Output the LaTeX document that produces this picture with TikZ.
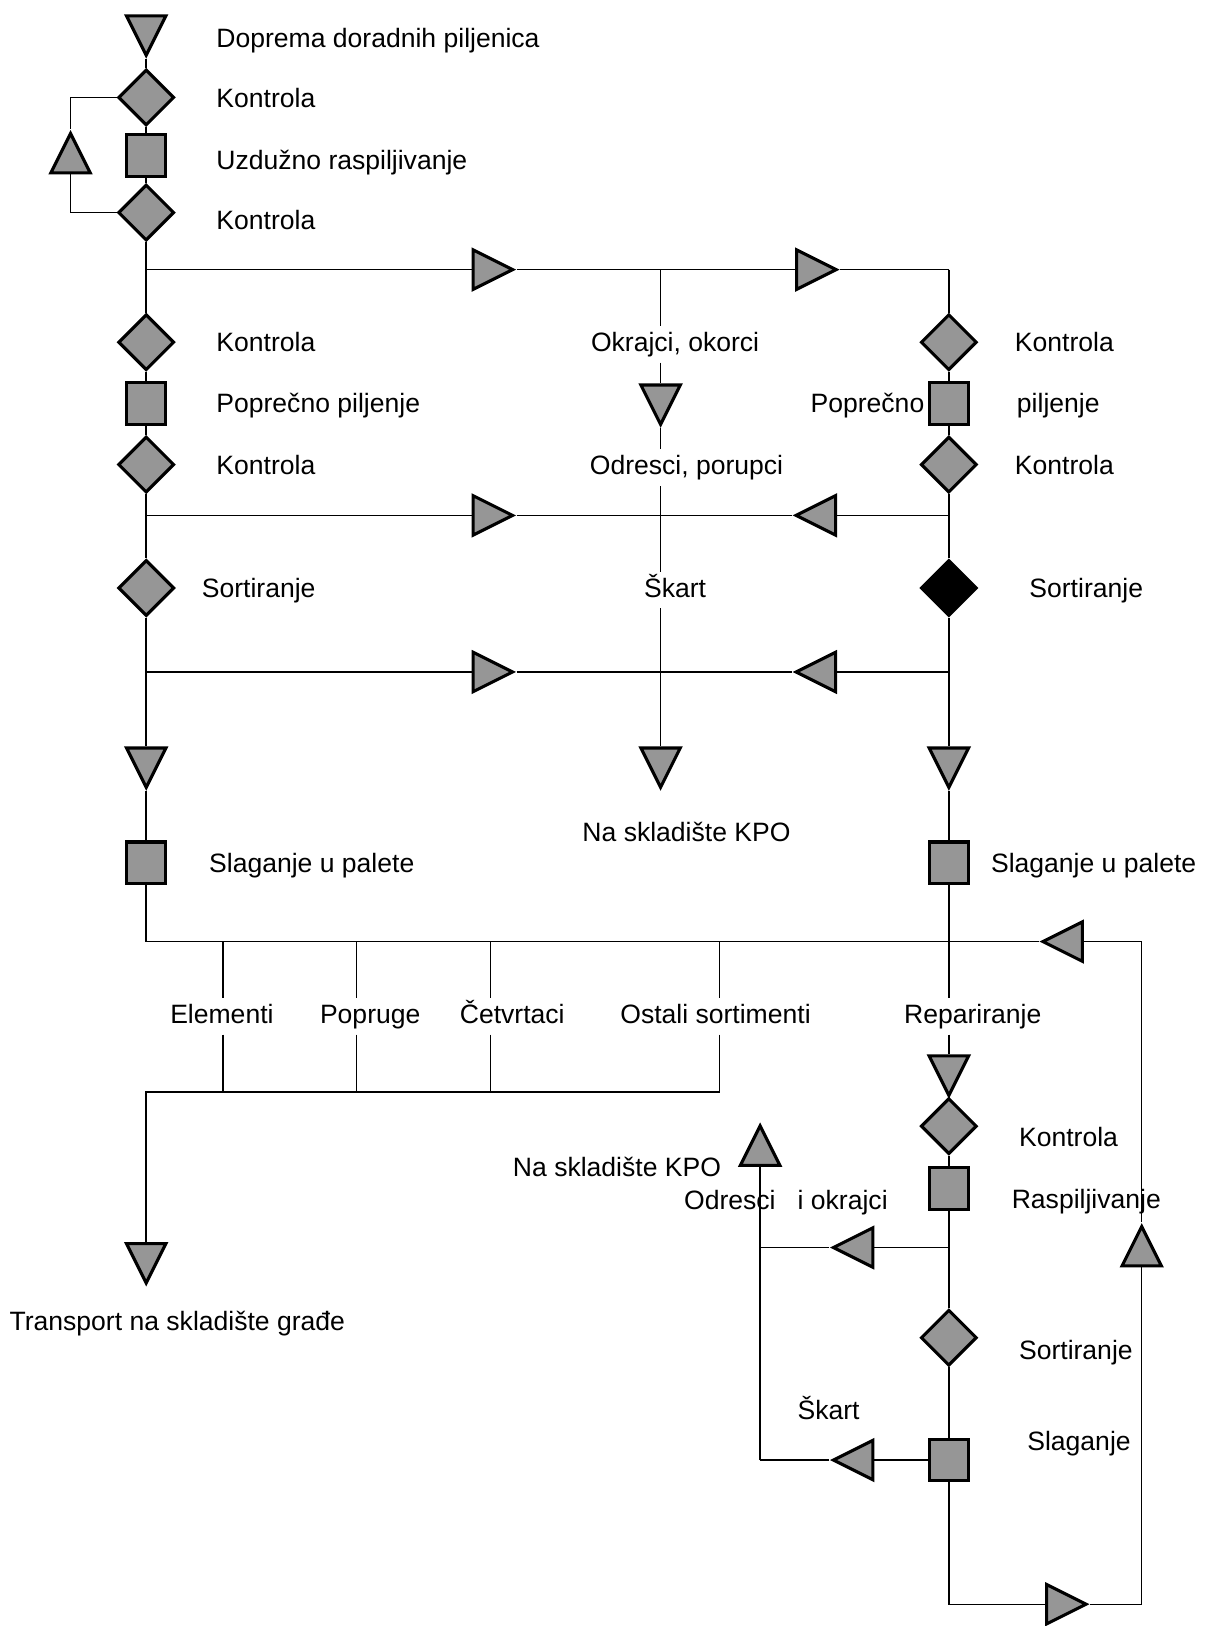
\documentclass[tikz,border=0pt]{standalone}
\usepackage{fontspec}
\setmainfont{Liberation Sans}
\usetikzlibrary{shapes.geometric}
\definecolor{symgray}{RGB}{150,150,150}
\tikzset{
  sym/.style={draw,fill=symgray,line width=1.5pt,inner sep=0pt},
  opbox/.style={sym,rectangle,minimum width=19pt,minimum height=20pt},
  ctrl/.style={sym,diamond,minimum width=27pt,minimum height=27pt},
  ctrlblack/.style={ctrl,fill=black},
  tri/.style={sym,isosceles triangle,isosceles triangle stretches,minimum width=19pt,minimum height=19pt},
  tridown/.style={tri,shape border rotate=-90},
  triup/.style={tri,shape border rotate=90},
  triright/.style={tri,shape border rotate=0},
  trileft/.style={tri,shape border rotate=180},
  lbl/.style={text height=9.5pt,text depth=2.5pt,inner sep=2.5pt}
}
\begin{document}
\begin{tikzpicture}[x=0.5pt,y=-0.5pt,line width=0.7pt,font=\fontsize{12.8}{15}\selectfont]
  \useasboundingbox (0,0) rectangle (1164,1568);
  % draw left column
  \node at(141,27)[tridown](tdop){};
  \node at(141,94)[ctrl](k1){};
  \node at(141,150)[opbox](sq1){};
  \node at(141,205)[ctrl](k2){};
  \node at(68,155)[triup](tloop){};
  \coordinate (l1) at (141,260);
  \node at(141,330)[ctrl](k3){};
  \node at(141,389)[opbox](sq2){};
  \node at(141,448)[ctrl](k4){};
  \coordinate (l2) at (141,497);
  \node at(141,567)[ctrl](s1){};
  \coordinate (l3) at (141,648);
  \node at(141,733)[tridown](tl){};
  \node at(141,832)[opbox](pal1){};
  \coordinate (b1) at (141,908);
  % draw left labels
  \node at(203,39)[lbl,anchor=west]{Doprema doradnih piljenica};
  \node at(203,97)[lbl,anchor=west]{Kontrola};
  \node at(203,156)[lbl,anchor=west]{Uzdužno raspiljivanje};
  \node at(203,214)[lbl,anchor=west]{Kontrola};
  \node at(203,332)[lbl,anchor=west]{Kontrola};
  \node at(203,391)[lbl,anchor=west]{Poprečno piljenje};
  \node at(203,451)[lbl,anchor=west]{Kontrola};
  \node at(189,569)[lbl,anchor=west]{Sortiranje};
  \node at(196,834)[lbl,anchor=west]{Slaganje u palete};
  % draw middle column
  \coordinate (m1) at (637,260);
  \node at(651,332)[lbl](okr){Okrajci, okorci};
  \node at(637,383)[tridown](tmid){};
  \node at(662,451)[lbl](odr){Odresci, porupci};
  \coordinate (m2) at (637,497);
  \node at(651,569)[lbl](skart){Škart};
  \coordinate (m3) at (637,648);
  \node at(637,733)[tridown](tkpo){};
  \node at(662,804)[lbl](kpo){Na skladište KPO};
  % draw row triangles
  \node at(468,260)[triright](ta1){};
  \node at(780,260)[triright](ta2){};
  \node at(468,497)[triright](tb1){};
  \node at(794,497)[trileft](tb2){};
  \node at(468,648)[triright](tc1){};
  \node at(794,648)[trileft](tc2){};
  % draw right column
  \coordinate (r1) at (915,260);
  \node at(915,330)[ctrl](k5){};
  \node at(915,389)[opbox](sq3){};
  \node at(915,448)[ctrl](k6){};
  \coordinate (r2) at (915,497);
  \node at(915,567)[ctrlblack](s2){};
  \coordinate (r3) at (915,648);
  \node at(915,733)[tridown](tr){};
  \node at(915,832)[opbox](pal2){};
  \coordinate (b5) at (915,908);
  \node at(938,980)[lbl](rep){Repariranje};
  \node at(915,1030)[tridown](trep){};
  \node at(915,1086)[ctrl](k7){};
  \node at(915,1146)[opbox](sq4){};
  \coordinate (r4) at (915,1203);
  \node at(915,1290)[ctrl](s3){};
  \node at(915,1408)[opbox](sq5){};
  \coordinate (r5) at (915,1547);
  % draw right labels
  \node at(973,332)[lbl,anchor=west]{Kontrola};
  \node at(897,391)[lbl,anchor=east]{Poprečno};
  \node at(975,391)[lbl,anchor=west]{piljenje};
  \node at(973,451)[lbl,anchor=west]{Kontrola};
  \node at(987,569)[lbl,anchor=west]{Sortiranje};
  \node at(950,834)[lbl,anchor=west]{Slaganje u palete};
  \node at(977,1099)[lbl,anchor=west]{Kontrola};
  \node at(970,1158)[lbl,anchor=west]{Raspiljivanje};
  \node at(977,1304)[lbl,anchor=west]{Sortiranje};
  \node at(985,1392)[lbl,anchor=west]{Slaganje};
  % draw return loop
  \node at(1021,1547)[triright](tbot){};
  \coordinate (r6) at (1101,1547);
  \node at(1101,1209)[triup](tup){};
  \coordinate (r7) at (1101,908);
  \node at(1032,908)[trileft](tback){};
  % draw sorting branches
  \coordinate (b2) at (215,908);
  \coordinate (b3) at (344,908);
  \coordinate (b4) at (473,908);
  \coordinate (b6) at (694,908);
  \node at(214,980)[lbl](elem){Elementi};
  \node at(357,980)[lbl](popr){Popruge};
  \node at(494,980)[lbl](cetv){Četvrtaci};
  \node at(690,980)[lbl](ostali){Ostali sortimenti};
  \coordinate (d1) at (141,1053);
  \coordinate (d2) at (215,1053);
  \coordinate (d3) at (344,1053);
  \coordinate (d4) at (473,1053);
  \coordinate (d5) at (694,1053);
  \node at(141,1211)[tridown](ttrans){};
  \node at(171,1276)[lbl](transp){Transport na skladište građe};
  % draw waste branches
  \coordinate (c1) at (733,1203);
  \coordinate (c2) at (733,1408);
  \node at(830,1203)[trileft](tside1){};
  \node at(830,1408)[trileft](tside2){};
  \node at(733,1112)[triup](tkpo2){};
  \node at(701,1128)[lbl,anchor=east]{Na skladište KPO};
  \node at(654,1159)[lbl,anchor=west]{Odresci~~~i okrajci};
  \node at(799,1362)[lbl]{Škart};
  % draw connectors
  \draw (tdop) -- (k1) -- (sq1) -- (k2) -- (l1) -- (k3) -- (sq2) -- (k4) -- (l2) -- (s1) -- (l3) -- (tl) -- (pal1) -- (b1);
  \draw (k1) -| (tloop);
  \draw (tloop) |- (k2);
  \draw (l1) -- (ta1) -- (m1) -- (ta2) -- (r1);
  \draw (l2) -- (tb1) -- (m2) -- (tb2) -- (r2);
  \draw (l3) -- (tc1) -- (m3) -- (tc2) -- (r3);
  \draw (m1) -- (m1 |- okr.north);
  \draw (m1 |- okr.south) -- (tmid) -- (tmid |- odr.north);
  \draw (tmid |- odr.south) -- (m2) -- (m2 |- skart.north);
  \draw (m2 |- skart.south) -- (m3) -- (tkpo);
  \draw (r1) -- (k5) -- (sq3) -- (k6) -- (r2) -- (s2) -- (r3) -- (tr) -- (pal2) -- (pal2 |- rep.north);
  \draw (pal2 |- rep.south) -- (trep) -- (k7) -- (sq4) -- (r4) -- (s3) -- (sq5);
  \draw (sq5) -- (r5) -- (tbot) -- (r6) -- (tup) -- (r7) -- (tback) -- (b1);
  \foreach \b/\l/\d in {b2/elem/d2,b3/popr/d3,b4/cetv/d4,b6/ostali/d5}{
    \draw (\b) -- (\b |- \l.north);
    \draw (\b |- \l.south) -- (\d);
  }
  \draw (d5) -- (d1) -- (ttrans);
  \draw (r4) -- (tside1) -- (c1);
  \draw (c2) -- (c1) -- (tkpo2);
  \draw (sq5) -- (tside2) -- (c2);
\end{tikzpicture}
\end{document}
